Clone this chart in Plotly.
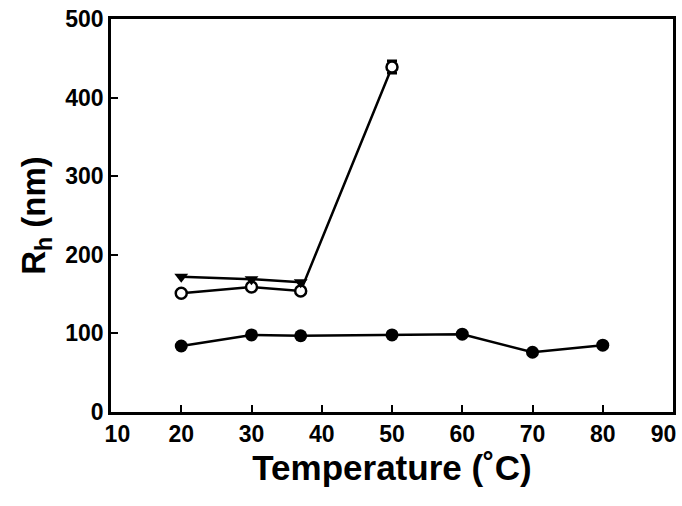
import plotly.graph_objects as go

temp_filled = [20, 30, 37, 50, 60, 70, 80]
rh_filled = [84, 98, 97, 98, 99, 76, 85]

temp_tri = [20, 30, 37]
rh_tri = [172, 169, 165]

temp_open = [20, 30, 37, 50]
rh_open = [151, 159, 154, 439]
err_open = [0, 0, 0, 8]

x_ticks = [10, 20, 30, 40, 50, 60, 70, 80, 90]
y_ticks = [0, 100, 200, 300, 400, 500]

NB = "\u00a0"


def x_label(v):
    t = f"<b>{v}</b>"
    if v == x_ticks[0]:
        return NB * 2 + t
    if v == x_ticks[-1]:
        return t + NB * 3
    return t


line = dict(color="black", width=2.5)
fig = go.Figure()
fig.add_trace(go.Scatter(x=temp_filled, y=rh_filled, mode="lines+markers",
                         line=line, marker=dict(symbol="circle", size=13, color="black")))
fig.add_trace(go.Scatter(x=temp_open, y=rh_open, mode="lines+markers",
                         line=line,
                         error_y=dict(type="data", array=err_open, color="black", thickness=2.5, width=5),
                         marker=dict(symbol="circle", size=11, color="white",
                                     line=dict(color="black", width=2.5))))
fig.add_trace(go.Scatter(x=temp_tri, y=rh_tri, mode="lines+markers",
                         line=line, marker=dict(symbol="triangle-down", size=12, color="black")))

font_ticks = dict(family="Liberation Sans, Arial, sans-serif", size=23, color="black")
fig.update_layout(
    width=682, height=506,
    margin=dict(l=111, r=9, t=19, b=94),
    paper_bgcolor="white", plot_bgcolor="white",
    showlegend=False,
    font=dict(family="Liberation Sans, Arial, sans-serif", color="black"),
)
fig.update_xaxes(range=[10, 90], tickvals=x_ticks, ticktext=[x_label(v) for v in x_ticks],
                 ticks="inside", ticklen=7, tickwidth=2, tickcolor="black",
                 showline=True, linecolor="black", linewidth=2.5, mirror=True,
                 showgrid=False, zeroline=False, tickfont=font_ticks, automargin=False,
                 ticklabeloverflow="allow",
                 title=dict(text="<b>Temperature (˚C)</b>", font=dict(size=35), standoff=10))
fig.update_yaxes(range=[0, 500], tickvals=y_ticks, ticktext=[f"<b>{v}</b>" for v in y_ticks],
                 ticks="inside", ticklen=7, tickwidth=2, tickcolor="black",
                 showline=True, linecolor="black", linewidth=2.5, mirror=True,
                 showgrid=False, zeroline=False, tickfont=font_ticks, automargin=False,
                 ticklabeloverflow="allow",
                 title=dict(text="<b>R<sub>h</sub> (nm)</b>", font=dict(size=33), standoff=10))

fig.write_html("out.html", config={"displayModeBar": False},
               post_script="document.body.style.margin='0';")
